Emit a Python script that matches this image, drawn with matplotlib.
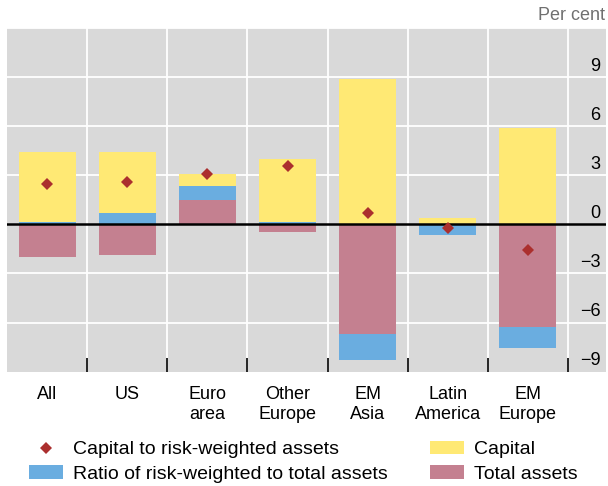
import matplotlib
matplotlib.use("Agg")
import matplotlib.pyplot as plt
import numpy as np
from matplotlib.lines import Line2D
from matplotlib.patches import Patch

plt.rcParams['font.family'] = ['Liberation Sans', 'DejaVu Sans']

categories = ["All", "US", "Euro\narea", "Other\nEurope", "EM\nAsia", "Latin\nAmerica", "EM\nEurope"]
capital = [4.24, 3.71, 0.73, 3.83, 8.84, 0.38, 5.90]
ratio_rwa = [0.16, 0.69, 0.85, 0.14, -1.58, -0.63, -1.32]
total_assets = [-1.97, -1.85, 1.48, -0.45, -6.68, 0.0, -6.25]
cap_to_rwa = [2.45, 2.59, 3.06, 3.55, 0.67, -0.20, -1.56]
ytick_vals = [-9, -6, -3, 0, 3, 6, 9]

c_yellow = '#ffe974'
c_blue = '#6aade0'
c_pink = '#c48090'
c_diamond = '#ab2f2e'
c_bg = '#d9d9d9'

W, H = 608, 486
fig = plt.figure(figsize=(W / 100, H / 100), dpi=100)
ax = fig.add_axes([7.3 / W, 1 - 371.7 / H, (606 - 7.3) / W, (371.7 - 27.7) / H])
ax.set_facecolor(c_bg)
x = np.arange(len(categories))
ax.set_xlim(-0.5, 6.5 + (606 - 567.7) / 80.06)
ax.set_ylim(-9, 12)

# gridlines
for g in [-6, -3, 3, 6, 9, 12]:
    ax.axhline(g, color='white', lw=1.3, zorder=1)
for b in np.arange(0.5, 7, 1.0):
    ax.axvline(b, color='white', lw=1.3, zorder=1)

# stacked bars
pos = np.zeros(len(x))
neg = np.zeros(len(x))
for vals, col in [(total_assets, c_pink), (ratio_rwa, c_blue), (capital, c_yellow)]:
    v = np.array(vals, dtype=float)
    bottom = np.where(v >= 0, pos, neg)
    ax.bar(x, v, bottom=bottom, width=0.71, color=col, zorder=2, linewidth=0)
    pos = np.where(v >= 0, pos + v, pos)
    neg = np.where(v < 0, neg + v, neg)

ax.axhline(0, color='black', lw=1.8, zorder=3)
ax.plot(x, cap_to_rwa, linestyle='none', marker='D', markersize=6.5,
        color=c_diamond, markeredgewidth=0, zorder=4)

for s in ax.spines.values():
    s.set_visible(False)

# ticks
ax.set_yticks([])
ax.set_xticks(x)
ax.set_xticklabels(categories, fontsize=13, linespacing=1.28)
ax.tick_params(axis='x', which='major', length=0, pad=10)
ax.set_xticks(np.arange(0.5, 7, 1.0), minor=True)
ax.tick_params(axis='x', which='minor', direction='in', length=10, width=1.2, color='black')

# y labels above gridlines
for v in ytick_vals:
    lab = str(v).replace('-', '\u2212')
    ax.annotate(lab, xy=(1, v), xycoords=('axes fraction', 'data'),
                xytext=(-4, 7.8), textcoords='offset points',
                ha='right', va='center', fontsize=13, zorder=5)

fig.text(605 / W, 1 - 15 / H, 'Per cent', ha='right', va='center', fontsize=13, color='#707070')

handles = [
    Line2D([], [], linestyle='none', marker='D', markersize=6.5, color=c_diamond, markeredgewidth=0),
    Patch(facecolor=c_blue, edgecolor='none'),
    Patch(facecolor=c_yellow, edgecolor='none'),
    Patch(facecolor=c_pink, edgecolor='none'),
]
labels = ['Capital to risk-weighted assets', 'Ratio of risk-weighted to total assets',
          'Capital', 'Total assets']
fig.legend(handles, labels, loc='upper left', bbox_to_anchor=(29 / W, 1 - 441 / H),
           ncol=2, frameon=False, fontsize=14, borderpad=0, borderaxespad=0,
           handlelength=1.75, handleheight=0.68, handletextpad=0.5,
           columnspacing=2.2, labelspacing=0.35)

fig.savefig('out.png', dpi=100)
